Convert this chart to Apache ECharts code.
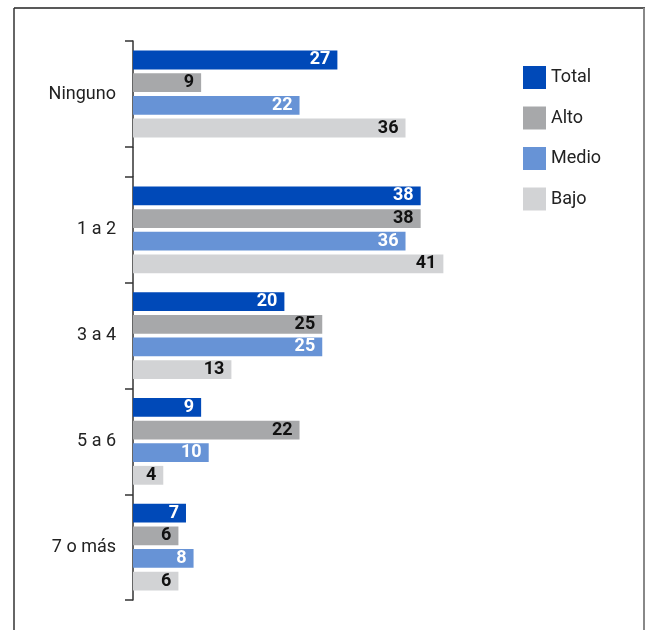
<!DOCTYPE html>
<html>
<head>
<meta charset="utf-8">
<script src="https://cdn.jsdelivr.net/npm/echarts@6/dist/echarts.min.js"></script>
<style>
html,body{margin:0;padding:0;background:#fff;}
#c{width:649px;height:630px;}
</style>
</head>
<body>
<div id="c"></div>
<script>
const categories = ['Ninguno', '1 a 2', '3 a 4', '5 a 6', '7 o más'];
const seriesNames = ['Total', 'Alto', 'Medio', 'Bajo'];
const total = [27, 38, 20, 9, 7];
const alto  = [9, 38, 25, 22, 6];
const medio = [22, 36, 25, 10, 8];
const bajo  = [36, 41, 13, 4, 6];

const colors = ['#0049B8', '#A7A8AA', '#6793D6', '#D2D3D5'];
const labelColors = ['#ffffff', '#111111', '#ffffff', '#111111'];
const FONT = 'Roboto, "Liberation Sans", sans-serif';

const values = [total, alto, medio, bajo];
const chart = echarts.init(document.getElementById('c'), null, {renderer: 'canvas'});

const gridDefs = [
  {left: 133, top: 41, width: 378.5, height: 106},
  {left: 133, top: 177, width: 378.5, height: 423}
];
const catSplits = [categories.slice(0, 1), categories.slice(1)];
const valSplits = values.map(v => [v.slice(0, 1), v.slice(1)]);

const yAxes = catSplits.map((cats, i) => ({
  type: 'category', gridIndex: i, data: cats, inverse: true,
  axisLine: {show: true, lineStyle: {color: '#333', width: 1.5}},
  axisTick: {show: true, length: 8, lineStyle: {color: '#333', width: 1.5}},
  axisLabel: {fontFamily: FONT, fontSize: 18, color: '#222', margin: 17}
}));
const xAxes = gridDefs.map((g, i) => ({
  type: 'value', gridIndex: i, min: 0, max: 50, show: false
}));

const series = [];
[0, 1].forEach(gi => {
  seriesNames.forEach((name, si) => {
    series.push({
      name: name, type: 'bar', xAxisIndex: gi, yAxisIndex: gi,
      data: valSplits[si][gi],
      barCategoryGap: '18%', barGap: '20%',
      itemStyle: {color: colors[si]},
      label: {show: true, position: 'insideRight', distance: 7,
        fontFamily: FONT, fontSize: 18, fontWeight: 'bold', color: labelColors[si]},
      emphasis: {disabled: true}, animation: false
    });
  });
});

chart.setOption({
  animation: false,
  grid: gridDefs,
  xAxis: xAxes,
  yAxis: yAxes,
  legend: {
    orient: 'vertical', left: 518, top: 61,
    itemWidth: 23, itemHeight: 23, itemGap: 17.5,
    icon: 'rect', data: seriesNames,
    textStyle: {fontFamily: FONT, fontSize: 18, color: '#222'}
  },
  series: series,
  graphic: [
    {type: 'line', shape: {x1: 133, y1: 147, x2: 133, y2: 177}, style: {stroke: '#333', lineWidth: 1.5}},
    {type: 'line', shape: {x1: 14, y1: 8, x2: 645, y2: 8}, style: {stroke: '#222', lineWidth: 1.5}},
    {type: 'line', shape: {x1: 14, y1: 8, x2: 14, y2: 630}, style: {stroke: '#333', lineWidth: 1.5}},
    {type: 'line', shape: {x1: 644, y1: 8, x2: 644, y2: 630}, style: {stroke: '#888', lineWidth: 2}}
  ]
});
</script>
</body>
</html>
